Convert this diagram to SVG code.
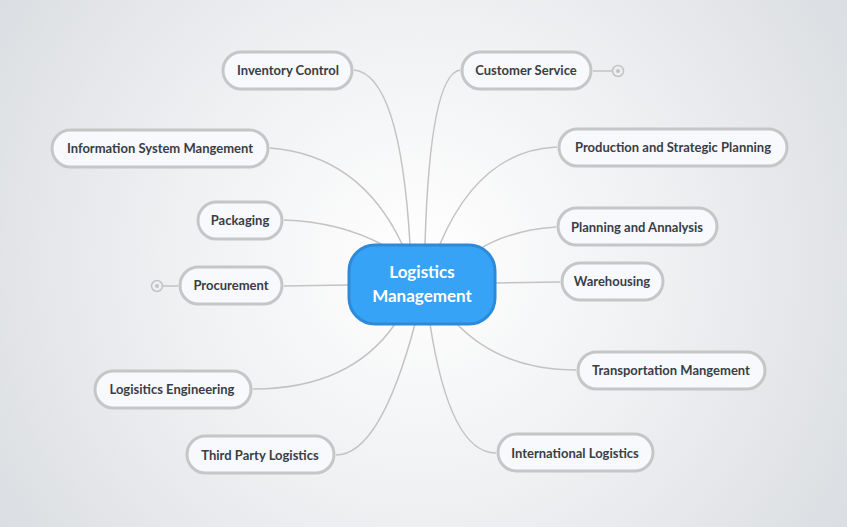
<svg xmlns="http://www.w3.org/2000/svg" width="847" height="527" viewBox="0 0 847 527">
<defs>
<radialGradient id="bg" cx="420" cy="260" r="520" gradientUnits="userSpaceOnUse">
<stop offset="0" stop-color="#ffffff"/><stop offset="0.45" stop-color="#f0f1f3"/><stop offset="1" stop-color="#d9dce0"/>
</radialGradient>
<style>
.n rect{fill:#f7f9fd;stroke:#c6c6c6;stroke-width:3}
.n text{font-family:"Lato","Liberation Sans",sans-serif;font-size:13px;font-weight:bold;fill:#3a3d45;text-anchor:middle;dominant-baseline:central}
.c path{fill:none;stroke:#c3c3c3;stroke-width:1.5}
.col{fill:none;stroke:#c3c3c3;stroke-width:1.5}
</style>
</defs>
<rect width="847" height="527" fill="url(#bg)"/>
<g class="c">
<path d="M410,244 Q400,75 354,70"/>
<path d="M402,244 Q360,155 270,148"/>
<path d="M383,245 Q340,222 284,220"/>
<path d="M348,285 L284,286"/>
<path d="M395,324 Q350,389 253,389"/>
<path d="M415,324 Q380,455 336,455"/>
<path d="M425,244 Q430,75 460,70"/>
<path d="M440,244 Q480,150 557,147"/>
<path d="M478,250 Q510,230 556,227"/>
<path d="M495,283 L560,282"/>
<path d="M455,322 Q500,370 576,370"/>
<path d="M430,324 Q450,453 496,453"/>
<path d="M593,71 L612,71"/>
<path d="M163,286 L178,286"/>
</g>
<circle class="col" cx="618" cy="71" r="5.5"/><circle cx="618" cy="71" r="2" fill="#c3c3c3"/>
<circle class="col" cx="157" cy="286" r="5.5"/><circle cx="157" cy="286" r="2" fill="#c3c3c3"/>
<g id="center"><rect x="349" y="245" width="146" height="79" rx="26" fill="#36a3f7" stroke="#2d8ad8" stroke-width="3"/>
<text x="422" y="271" font-family="Lato,'Liberation Sans',sans-serif" font-size="17" font-weight="bold" fill="#fff" text-anchor="middle" dominant-baseline="central">Logistics</text>
<text x="422" y="295" font-family="Lato,'Liberation Sans',sans-serif" font-size="17" font-weight="bold" fill="#fff" text-anchor="middle" dominant-baseline="central">Management</text></g>
<g id="n1" class="n"><rect x="223" y="52" width="129" height="37" rx="18.5"/><text x="288" y="70">Inventory Control</text></g>
<g id="n2" class="n"><rect x="462" y="52" width="129" height="37" rx="18.5"/><text x="526" y="70">Customer Service</text></g>
<g id="n3" class="n"><rect x="52" y="130" width="216" height="37" rx="18.5"/><text x="160" y="148">Information System Mangement</text></g>
<g id="n4" class="n"><rect x="559" y="129" width="228" height="37" rx="18.5"/><text x="673" y="147">Production and Strategic Planning</text></g>
<g id="n5" class="n"><rect x="198" y="202" width="84" height="37" rx="18.5"/><text x="240" y="220">Packaging</text></g>
<g id="n6" class="n"><rect x="558" y="208" width="159" height="37" rx="18.5"/><text x="637" y="227">Planning and Annalysis</text></g>
<g id="n7" class="n"><rect x="180" y="267" width="102" height="37" rx="18.5"/><text x="231" y="285">Procurement</text></g>
<g id="n8" class="n"><rect x="562" y="263" width="101" height="37" rx="18.5"/><text x="612" y="281">Warehousing</text></g>
<g id="n9" class="n"><rect x="95" y="371" width="156" height="37" rx="18.5"/><text x="172" y="389">Logisitics Engineering</text></g>
<g id="n10" class="n"><rect x="578" y="352" width="187" height="37" rx="18.5"/><text x="671" y="370">Transportation Mangement</text></g>
<g id="n11" class="n"><rect x="187" y="436" width="147" height="37" rx="18.5"/><text x="260" y="455">Third Party Logistics</text></g>
<g id="n12" class="n"><rect x="498" y="434" width="155" height="37" rx="18.5"/><text x="575" y="453">International Logistics</text></g>
</svg>
